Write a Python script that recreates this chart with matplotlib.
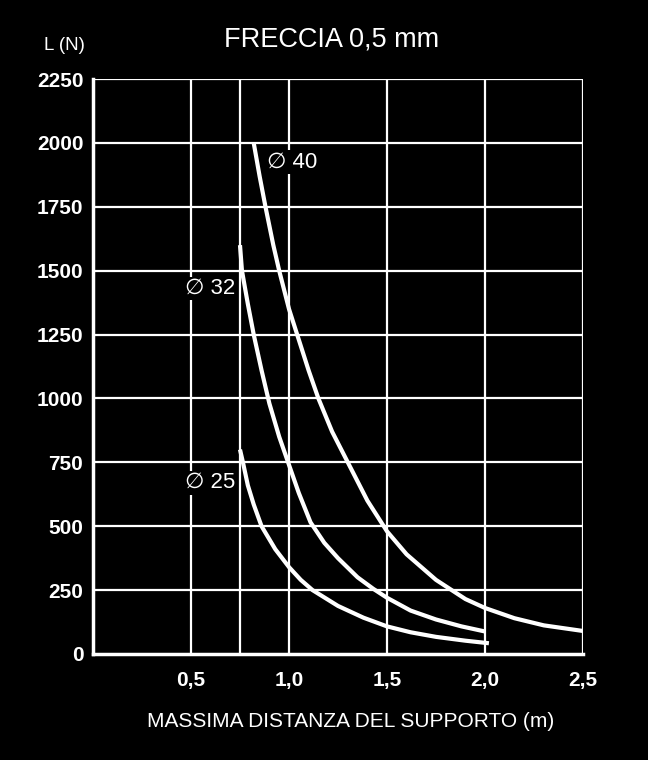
import numpy as np
import matplotlib.pyplot as plt

# curve readings (m, N)
x40 = [0.82, 0.85, 0.88, 0.92, 0.95, 1.0, 1.05, 1.1, 1.15, 1.22, 1.3, 1.4, 1.5, 1.6, 1.75, 1.9, 2.0, 2.15, 2.3, 2.5]
y40 = [2000, 1870, 1750, 1600, 1500, 1350, 1230, 1110, 1000, 870, 750, 600, 480, 390, 290, 215, 180, 140, 112, 90]
x32 = [0.75, 0.76, 0.79, 0.82, 0.86, 0.9, 0.95, 1.0, 1.05, 1.11, 1.18, 1.25, 1.35, 1.43, 1.5, 1.62, 1.75, 1.88, 2.0]
y32 = [1600, 1500, 1370, 1250, 1110, 980, 850, 740, 630, 515, 435, 375, 300, 255, 220, 170, 135, 108, 88]
x25 = [0.75, 0.765, 0.79, 0.82, 0.86, 0.93, 1.0, 1.06, 1.12, 1.25, 1.38, 1.5, 1.62, 1.75, 1.9, 2.02]
y25 = [800, 750, 660, 585, 500, 410, 340, 290, 250, 188, 142, 108, 85, 67, 52, 42]

labels = ['\u2205 40', '\u2205 32', '\u2205 25']
label_pos = [(0.89, 1925), (0.47, 1430), (0.47, 670)]

xticks = [0.5, 1.0, 1.5, 2.0, 2.5]
xticklabels = ['0,5', '1,0', '1,5', '2,0', '2,5']
xgrid = [0.5, 0.75, 1.0, 1.5, 2.0, 2.5]
yticks = list(range(0, 2251, 250))

plt.rcParams['font.family'] = ['Liberation Sans', 'DejaVu Sans']

fig = plt.figure(figsize=(6.48, 7.6), dpi=100, facecolor='black')
ax = fig.add_axes([0.1435, 0.1395, 0.7562, 0.7565], facecolor='black')

for gx in xgrid:
  ax.axvline(gx, color='white', lw=1.6, zorder=1)
for gy in yticks[1:]:
  ax.axhline(gy, color='white', lw=1.6, zorder=1)

for xs, ys in [(x40, y40), (x32, y32), (x25, y25)]:
  ax.plot(xs, ys, color='white', lw=3, solid_capstyle='butt', solid_joinstyle='round', zorder=3)

for txt, (tx, ty) in zip(labels, label_pos):
  ax.text(tx, ty, txt, color='white', fontsize=16, va='center', ha='left',
          bbox=dict(facecolor='black', edgecolor='none', pad=1), zorder=4)

ax.set_xlim(0, 2.5)
ax.set_ylim(0, 2250)
for s in ['top', 'right']:
  ax.spines[s].set_visible(False)
for s in ['left', 'bottom']:
  ax.spines[s].set_color('white')
  ax.spines[s].set_linewidth(2.5)

ax.set_xticks(xticks)
ax.set_xticklabels(xticklabels, fontweight='bold', fontsize=15, color='white')
ax.set_yticks(yticks)
ax.set_yticklabels([str(v) for v in yticks], fontweight='bold', fontsize=15, color='white')
ax.tick_params(axis='x', length=0, pad=12)
ax.tick_params(axis='y', length=0, pad=7)

fig.text(0.512, 0.948, 'FRECCIA 0,5 mm', color='white', fontsize=19.5, ha='center', va='center')
fig.text(0.068, 0.94, 'L (N)', color='white', fontsize=13.5, ha='left', va='center')
fig.text(0.541, 0.051, 'MASSIMA DISTANZA DEL SUPPORTO (m)', color='white', fontsize=15, ha='center', va='center')

fig.savefig('out.png', dpi=100, facecolor='black')
